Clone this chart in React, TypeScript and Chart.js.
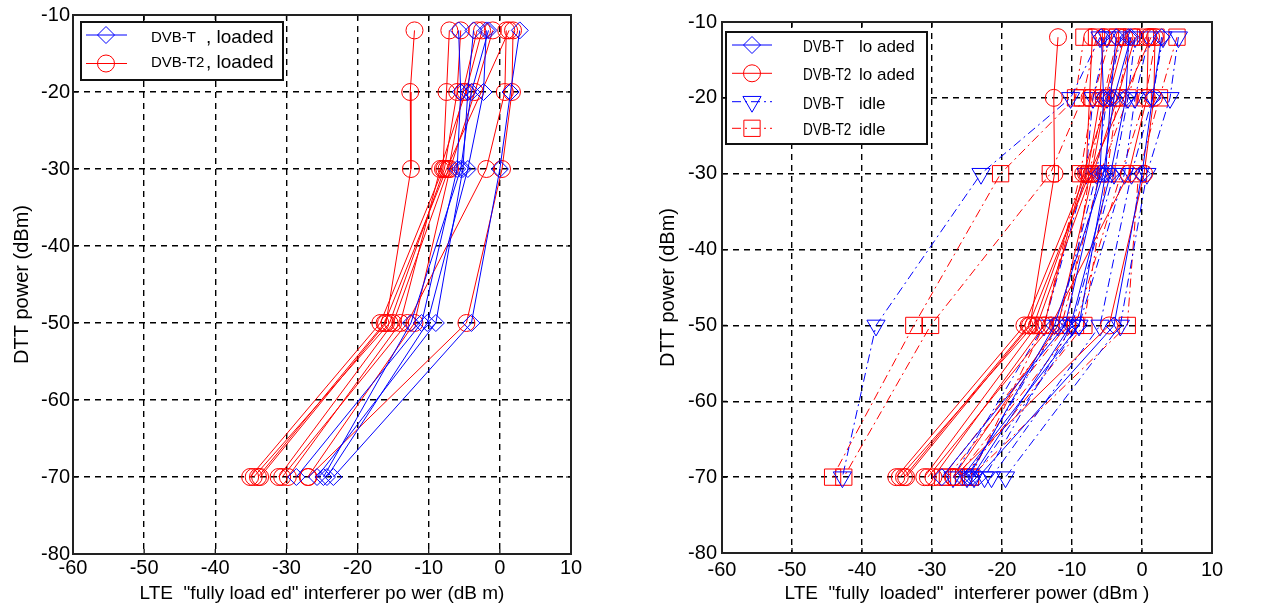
import React, { useEffect, useRef } from 'react';
import { Chart, registerables } from 'chart.js';

Chart.register(...registerables);

// DTT power levels (y) at which each curve was measured
const dttLevels = [-12, -20, -30, -50, -70];
const xTickValues = [-60, -50, -40, -30, -20, -10, 0, 10];
const yTickValues = [-80, -70, -60, -50, -40, -30, -20, -10];

// LTE interferer power (x) per curve, one value per DTT level
const dvbtLoaded = [
  [-5.8, -5.5, -6.0, -11.0, -28.6],
  [-3.7, -4.5, -5.2, -9.0, -25.7],
  [-1.9, -2.3, -4.5, -10.2, -24.3],
  [-1.6, -4.0, -5.5, -12.5, -24.8],
  [2.8, 1.5, 0.0, -4.0, -23.4],
];
const dvbt2Loaded = [
  [-12.0, -12.6, -12.5, -16.0, -33.7],
  [-7.1, -7.5, -8.0, -16.8, -35.1],
  [-5.5, -6.0, -7.8, -15.5, -34.6],
  [-3.2, -5.2, -7.2, -15.0, -31.1],
  [-2.5, -4.8, -8.4, -14.0, -29.8],
  [1.85, 1.7, 0.3, -4.7, -26.9],
  [0.9, 0.7, -1.9, -13.0, -30.6],
  [-1.0, -3.5, -7.0, -12.0, -27.0],
  [1.3, null, -7.5, -16.2, -34.0],
];
const dvbtIdle = [
  [-6.0, -10.2, -23.0, -38.0, -42.8],
  [5.2, 4.0, 0.7, -3.1, -19.5],
  [-3.0, -5.0, -6.5, -12.0, -25.0],
  [-1.0, -2.0, -4.0, -10.0, -22.5],
  [-5.0, -7.0, -8.0, -14.0, -27.0],
  [1.0, -1.0, -2.5, -9.0, -24.0],
  [3.0, 1.5, -1.5, -6.0, -21.5],
];
const dvbt2Idle = [
  [-8.3, -9.5, -20.2, -32.6, -44.2],
  [-6.5, -8.5, -13.1, -30.2, -42.6],
  [5.0, 2.5, -0.5, -2.1, -24.5],
  [-3.5, -5.5, -7.5, -10.7, -27.8],
  [-1.5, -3.5, -5.0, -8.3, -25.5],
  [2.0, 0.5, -3.0, -9.5, -26.5],
  [-4.5, -7.0, -8.8, -14.0, -24.5],
  [0.5, -2.0, -6.0, -11.5, -28.5],
];

const BLUE = '#0000ff';
const RED = '#ff0000';
const FONT = "'Liberation Sans', Arial, sans-serif";

type Style = { color: string; point: string; radius: number; rotation: number; dash: number[] };
const styles: Record<string, Style> = {
  dvbtLoaded: { color: BLUE, point: 'rectRot', radius: 8.5, rotation: 0, dash: [] },
  dvbt2Loaded: { color: RED, point: 'circle', radius: 8.5, rotation: 0, dash: [] },
  dvbtIdle: { color: BLUE, point: 'triangle', radius: 10.5, rotation: 180, dash: [9, 4, 2, 4] },
  dvbt2Idle: { color: RED, point: 'rect', radius: 11.5, rotation: 0, dash: [9, 4, 2, 4] },
};

function makeDatasets(rows: (number | null)[][], st: Style) {
  return rows.map((xs) => ({
    data: xs.map((x, i) => (x === null ? { x: NaN, y: NaN } : { x, y: dttLevels[i] })).filter((p) => !isNaN(p.x)),
    showLine: true,
    borderColor: st.color,
    borderWidth: 1,
    borderDash: st.dash,
    tension: 0,
    fill: false,
    pointStyle: st.point,
    pointRadius: st.radius,
    pointRotation: st.rotation,
    pointBorderColor: st.color,
    pointBackgroundColor: 'rgba(0,0,0,0)',
    pointBorderWidth: 1,
  }));
}

function drawMarker(ctx: CanvasRenderingContext2D, st: Style, x: number, y: number) {
  const r = st.radius;
  ctx.beginPath();
  if (st.point === 'circle') {
    ctx.arc(x, y, r, 0, Math.PI * 2);
  } else if (st.point === 'rectRot') {
    ctx.moveTo(x - r, y);
    ctx.lineTo(x, y - r);
    ctx.lineTo(x + r, y);
    ctx.lineTo(x, y + r);
    ctx.closePath();
  } else if (st.point === 'rect') {
    const s = r * Math.SQRT1_2;
    ctx.rect(x - s, y - s, 2 * s, 2 * s);
  } else if (st.point === 'triangle') {
    for (let k = 0; k < 3; k++) {
      const a = Math.PI + (k * 2 * Math.PI) / 3;
      const px = x + Math.sin(a) * r;
      const py = y - Math.cos(a) * r;
      if (k === 0) ctx.moveTo(px, py);
      else ctx.lineTo(px, py);
    }
    ctx.closePath();
  }
  ctx.stroke();
}

const boxPlugin = {
  id: 'matlabBox',
  afterDraw(chart: any) {
    const { ctx, chartArea: a, scales } = chart;
    ctx.save();
    ctx.strokeStyle = '#000';
    ctx.lineWidth = 1.2;
    ctx.setLineDash([]);
    const tl = 5;
    xTickValues.forEach((v) => {
      const px = scales.x.getPixelForValue(v);
      ctx.beginPath();
      ctx.moveTo(px, a.bottom);
      ctx.lineTo(px, a.bottom - tl);
      ctx.moveTo(px, a.top);
      ctx.lineTo(px, a.top + tl);
      ctx.stroke();
    });
    yTickValues.forEach((v) => {
      const py = scales.y.getPixelForValue(v);
      ctx.beginPath();
      ctx.moveTo(a.left, py);
      ctx.lineTo(a.left + tl, py);
      ctx.moveTo(a.right, py);
      ctx.lineTo(a.right - tl, py);
      ctx.stroke();
    });
    ctx.strokeStyle = '#222';
    ctx.lineWidth = 2;
    ctx.strokeRect(a.left, a.top, a.right - a.left, a.bottom - a.top);
    ctx.restore();
  },
};

const legendPlugin = {
  id: 'matlabLegend',
  afterDatasetsDraw(chart: any, _args: any, o: any) {
    if (!o || !o.items) return;
    const { ctx } = chart;
    ctx.save();
    ctx.fillStyle = '#fff';
    ctx.fillRect(o.x, o.y, o.w, o.h);
    ctx.strokeStyle = '#111';
    ctx.lineWidth = 2;
    ctx.setLineDash([]);
    ctx.strokeRect(o.x, o.y, o.w, o.h);
    o.items.forEach((it: any, i: number) => {
      const st: Style = styles[it.key];
      const ly = o.rowY[i];
      ctx.strokeStyle = st.color;
      ctx.lineWidth = 1;
      ctx.setLineDash(st.dash);
      ctx.beginPath();
      ctx.moveTo(o.lineX0, ly);
      ctx.lineTo(o.lineX1, ly);
      ctx.stroke();
      ctx.setLineDash([]);
      drawMarker(ctx, st, o.markerX, ly);
      const ty = ly + o.textDy[i];
      ctx.fillStyle = '#000';
      ctx.textBaseline = 'middle';
      ctx.textAlign = 'left';
      ctx.font = `${o.size1}px ${FONT}`;
      ctx.save();
      ctx.translate(o.text1X, ty);
      ctx.scale(o.scale1, 1);
      ctx.fillText(it.name, 0, 0);
      ctx.restore();
      ctx.font = `${o.size2}px ${FONT}`;
      ctx.fillText(it.state, o.text2X, ty);
    });
    ctx.restore();
  },
};

function makeConfig(p: any) {
  const tickFont = { family: FONT, size: 20 };
  return {
    type: 'scatter',
    data: { datasets: p.datasets },
    options: {
      responsive: false,
      animation: false,
      events: [],
      spanGaps: true,
      layout: { padding: { top: p.top, right: p.right, left: 0, bottom: 0 } },
      plugins: {
        legend: { display: false },
        tooltip: { enabled: false },
        matlabLegend: p.legend,
      },
      scales: {
        x: {
          type: 'linear',
          min: -60,
          max: 10,
          afterBuildTicks: (s: any) => {
            s.ticks = xTickValues.map((value) => ({ value }));
          },
          afterFit: (s: any) => {
            s.height = p.xHeight;
          },
          grid: { color: '#000', lineWidth: 1.4, drawTicks: false },
          border: { display: false, dash: [6, 5] },
          ticks: { color: '#000', font: tickFont, padding: p.xTickPad, maxRotation: 0, autoSkip: false },
          title: {
            display: true,
            text: p.xTitle,
            color: '#000',
            font: { family: FONT, size: 19 },
            padding: { top: 0, bottom: 3 },
          },
        },
        y: {
          type: 'linear',
          min: -80,
          max: -10,
          afterBuildTicks: (s: any) => {
            s.ticks = yTickValues.map((value) => ({ value }));
          },
          afterFit: (s: any) => {
            s.width = p.yWidth;
          },
          grid: { color: '#000', lineWidth: 1.4, drawTicks: false },
          border: { display: false, dash: [6, 5] },
          ticks: { color: '#000', font: tickFont, padding: p.yTickPad, autoSkip: false },
          title: {
            display: true,
            text: 'DTT power (dBm)',
            color: '#000',
            font: { family: FONT, size: 20 },
            padding: { top: p.yTitlePad, bottom: 0 },
          },
        },
      },
    },
    plugins: [legendPlugin, boxPlugin],
  } as any;
}

export default function App() {
  const leftRef = useRef<HTMLCanvasElement>(null);
  const rightRef = useRef<HTMLCanvasElement>(null);

  useEffect(() => {
    document.body.style.margin = '0';
    const leftCfg = makeConfig({
      datasets: [...makeDatasets(dvbtLoaded, styles.dvbtLoaded), ...makeDatasets(dvbt2Loaded, styles.dvbt2Loaded)],
      top: 13,
      right: 49,
      xHeight: 54,
      yWidth: 73,
      xTickPad: 2,
      yTickPad: 3,
      yTitlePad: 10,
      xTitle: 'LTE  "fully load ed" interferer po wer (dB m)',
      legend: {
        x: 81,
        y: 22,
        w: 202,
        h: 58,
        lineX0: 86,
        lineX1: 127,
        markerX: 106,
        text1X: 151,
        text2X: 206,
        size1: 15,
        size2: 19,
        scale1: 1,
        rowY: [35, 63.5],
        textDy: [3, -1],
        items: [
          { key: 'dvbtLoaded', name: 'DVB-T', state: ', loaded' },
          { key: 'dvbt2Loaded', name: 'DVB-T2', state: ', loaded' },
        ],
      },
    });
    const rightCfg = makeConfig({
      datasets: [
        ...makeDatasets(dvbtLoaded, styles.dvbtLoaded),
        ...makeDatasets(dvbt2Loaded, styles.dvbt2Loaded),
        ...makeDatasets(dvbtIdle, styles.dvbtIdle),
        ...makeDatasets(dvbt2Idle, styles.dvbt2Idle),
      ],
      top: 22,
      right: 55,
      xHeight: 55,
      yWidth: 82,
      xTickPad: 5,
      yTickPad: 5,
      yTitlePad: 16,
      xTitle: 'LTE  "fully  loaded"  interferer power (dBm )',
      legend: {
        x: 86,
        y: 32,
        w: 201,
        h: 112,
        lineX0: 92,
        lineX1: 132,
        markerX: 112,
        text1X: 163,
        text2X: 219,
        size1: 16,
        size2: 17,
        scale1: 0.85,
        rowY: [45, 73.3, 101.7, 128.3],
        textDy: [2.5, 2.5, 2.5, 2.5],
        items: [
          { key: 'dvbtLoaded', name: 'DVB-T', state: 'lo aded' },
          { key: 'dvbt2Loaded', name: 'DVB-T2', state: 'lo aded' },
          { key: 'dvbtIdle', name: 'DVB-T', state: 'idle' },
          { key: 'dvbt2Idle', name: 'DVB-T2', state: 'idle' },
        ],
      },
    });
    const c1 = new Chart(leftRef.current as HTMLCanvasElement, leftCfg);
    const c2 = new Chart(rightRef.current as HTMLCanvasElement, rightCfg);
    return () => {
      c1.destroy();
      c2.destroy();
    };
  }, []);

  return (
    <div style={{ position: 'absolute', left: 0, top: 0, width: 1267, height: 608, background: '#fff' }}>
      <canvas ref={leftRef} width={620} height={608} style={{ position: 'absolute', left: 0, top: 0 }} />
      <canvas ref={rightRef} width={627} height={608} style={{ position: 'absolute', left: 640, top: 0 }} />
    </div>
  );
}
